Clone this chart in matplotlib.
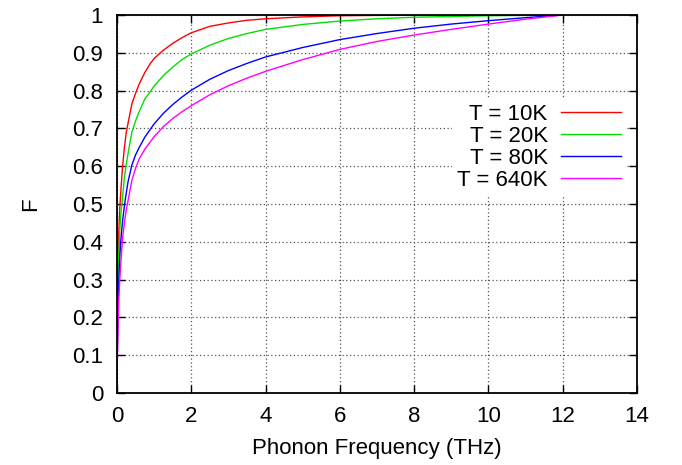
import matplotlib
matplotlib.use("Agg")
import matplotlib.pyplot as plt

plt.rcParams['font.family'] = ['Liberation Sans', 'DejaVu Sans']

freq = [0, 0.005, 0.01, 0.02, 0.035, 0.05, 0.075, 0.1, 0.15, 0.2, 0.25, 0.3, 0.4, 0.5, 0.6, 0.75,
        0.9, 1.0, 1.25, 1.5, 1.75, 2, 2.5, 3, 3.5, 4, 5, 6, 7, 8, 9, 10, 11, 12]
f_10K = [0, 0.12, 0.19, 0.28, 0.37, 0.43, 0.49, 0.53, 0.60, 0.65, 0.69, 0.715, 0.765, 0.793, 0.818, 0.848,
         0.872, 0.885, 0.907, 0.925, 0.94, 0.953, 0.97, 0.979, 0.986, 0.99, 0.995, 0.998, 0.999, 0.9995,
         1.0, 1.0, 1.0, 1.0]
f_20K = [0, 0.09, 0.14, 0.22, 0.31, 0.37, 0.43, 0.47, 0.52, 0.57, 0.605, 0.635, 0.69, 0.72, 0.745, 0.778,
         0.798, 0.812, 0.84, 0.862, 0.882, 0.897, 0.92, 0.938, 0.951, 0.962, 0.975, 0.984, 0.99, 0.994,
         0.996, 0.998, 0.999, 1.0]
f_80K = [0, 0.07, 0.11, 0.17, 0.25, 0.30, 0.36, 0.40, 0.455, 0.495, 0.53, 0.56, 0.603, 0.63, 0.65, 0.677,
         0.698, 0.712, 0.74, 0.763, 0.783, 0.801, 0.83, 0.853, 0.872, 0.889, 0.914, 0.935, 0.951, 0.965,
         0.976, 0.985, 0.993, 1.0]
f_640K = [0, 0.06, 0.09, 0.14, 0.2, 0.25, 0.3, 0.34, 0.41, 0.45, 0.485, 0.51, 0.562, 0.595, 0.62, 0.645,
          0.665, 0.678, 0.705, 0.726, 0.744, 0.76, 0.789, 0.813, 0.833, 0.851, 0.882, 0.909, 0.93, 0.947,
          0.962, 0.976, 0.989, 1.0]
labels = ['T = 10K', 'T = 20K', 'T = 80K', 'T = 640K']
colors = ['#ff0000', '#00e000', '#0000ff', '#ff00ff']
xticks = [0, 2, 4, 6, 8, 10, 12, 14]
yticks = [0, 0.1, 0.2, 0.3, 0.4, 0.5, 0.6, 0.7, 0.8, 0.9, 1]
yticklabels = ['0', '0.1', '0.2', '0.3', '0.4', '0.5', '0.6', '0.7', '0.8', '0.9', '1']

fig = plt.figure(figsize=(6.82, 4.65), dpi=100)
ax = fig.add_axes([117/682, 1-393/465, (637-117)/682, (393-15)/465])

for ys, lab, c in zip([f_10K, f_20K, f_80K, f_640K], labels, colors):
    ax.plot(freq, ys, color=c, lw=1.0, label=lab)

ax.set_xlim(0, 14)
ax.set_ylim(0, 1)
ax.set_xticks(xticks)
ax.set_yticks(yticks)
ax.set_xticklabels([str(t) for t in xticks])
ax.set_yticklabels(yticklabels)
ax.tick_params(direction='in', length=6, width=1, top=True, right=True, labelsize=16)
ax.tick_params(axis='y', pad=10)
ax.tick_params(axis='x', pad=9)
ax.grid(True, color='#555555', linestyle=(0, (1, 2)), lw=0.9)
for s in ax.spines.values():
    s.set_linewidth(1.3)

ax.set_xlabel('Phonon Frequency (THz)', fontsize=16, labelpad=8)
ax.set_ylabel('F', fontsize=16, labelpad=22)

leg = ax.legend(loc='upper right', bbox_to_anchor=(0.98, 0.78), markerfirst=False, frameon=True,
                fontsize=16, handlelength=2.7, handletextpad=0.6, labelspacing=0.05,
                borderaxespad=0, borderpad=0.25, fancybox=False)
leg.get_frame().set_edgecolor('none')
leg.get_frame().set_facecolor('white')
leg.get_frame().set_alpha(1)
for t in leg.get_texts():
    t.set_ha('right')

fig.savefig('out.png', dpi=100)
